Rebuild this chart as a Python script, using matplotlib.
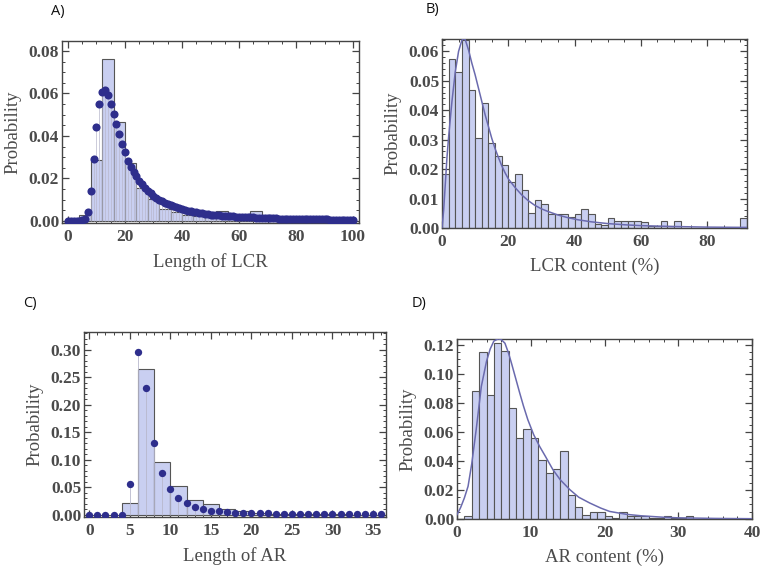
import numpy as np
import matplotlib
matplotlib.use("Agg")
import matplotlib.pyplot as plt
from matplotlib.ticker import MultipleLocator, FormatStrFormatter

# ---------------- Data ----------------
# Panel A: length of LCR
a_bin_width = 4
a_bars = [0.0005, 0.003, 0.0287, 0.0762, 0.0464, 0.0274, 0.0157, 0.0103, 0.0055, 0.0041,
          0.003, 0.0025, 0.002, 0.0045, 0.002, 0.0015, 0.0045, 0.003, 0.002, 0.001,
          0.001, 0.0008, 0.0008, 0.0007, 0.0006]
a_pts = [0, 0, 0, 0, 0.0001, 0.0003, 0.001, 0.004, 0.014, 0.029, 0.044, 0.055, 0.0606, 0.0616,
         0.0593, 0.0549, 0.0502, 0.0455, 0.0408, 0.0361, 0.0323, 0.0282, 0.0256, 0.0232, 0.021,
         0.019, 0.0172, 0.0157, 0.0143, 0.013, 0.0119, 0.0109, 0.0100, 0.0092, 0.0085, 0.0079,
         0.0073, 0.0068, 0.0063, 0.0059, 0.0055, 0.0051, 0.0048, 0.0045, 0.0042, 0.0040, 0.0037,
         0.0035, 0.0033, 0.0031, 0.0030, 0.0028, 0.0027, 0.0026, 0.0025, 0.0024, 0.0023, 0.0022,
         0.0021, 0.0020, 0.0019, 0.0018, 0.0018, 0.0017, 0.0016, 0.0016, 0.0015, 0.0015, 0.0014,
         0.0014, 0.0013, 0.0013, 0.0012, 0.0012, 0.0011, 0.0011, 0.0011, 0.0010, 0.0010, 0.0010,
         0.0009, 0.0009, 0.0009, 0.0008, 0.0008, 0.0008, 0.0008, 0.0007, 0.0007, 0.0007, 0.0007,
         0.0007, 0.0006, 0.0006, 0.0006, 0.0006, 0.0006, 0.0006, 0.0005, 0.0005, 0.0005]
a_xticks = [0, 20, 40, 60, 80, 100]
a_yticks = [0.00, 0.02, 0.04, 0.06, 0.08]

# Panel B: LCR content (%)
b_bin_width = 2
b_bars = [0.0185, 0.0574, 0.053, 0.064, 0.047, 0.0305, 0.0424, 0.029, 0.0246, 0.0214,
          0.0157, 0.0185, 0.0129, 0.0051, 0.0094, 0.0080, 0.0049, 0.0047, 0.0047, 0.0038,
          0.0049, 0.0066, 0.0047, 0.0015, 0.0010, 0.0034, 0.0024, 0.0024, 0.0024, 0.0024,
          0.0022, 0.0008, 0.0008, 0.0025, 0.0008, 0.0025, 0.0, 0.0, 0.0, 0.0,
          0.0, 0.0, 0.0, 0.0, 0.0, 0.0034]
b_curve_x = [0, 0.5, 1, 1.5, 2, 3, 4, 5, 6, 6.5, 7, 8, 9, 10, 11, 12, 13, 14, 15, 16, 17, 18,
             19, 20, 22, 24, 26, 28, 30, 32, 35, 38, 41, 45, 50, 55, 60, 70, 80, 92]
b_curve_y = [0.0, 0.006, 0.015, 0.024, 0.031, 0.043, 0.053, 0.060, 0.0638, 0.0643, 0.0640,
             0.0605, 0.0560, 0.0520, 0.0475, 0.0430, 0.0385, 0.0345, 0.0305, 0.0270, 0.0240,
             0.0212, 0.0188, 0.0167, 0.0138, 0.0113, 0.0093, 0.0077, 0.0065, 0.0056, 0.0044,
             0.0035, 0.0028, 0.0021, 0.0015, 0.0011, 0.0008, 0.0005, 0.0003, 0.0002]
b_xticks = [0, 20, 40, 60, 80]
b_yticks = [0.00, 0.01, 0.02, 0.03, 0.04, 0.05, 0.06]

# Panel C: length of AR
c_bin_width = 2
c_bars = [0, 0, 0.0223, 0.264, 0.0954, 0.052, 0.0277, 0.0205, 0.0114, 0.006,
          0.003, 0.002, 0.0015, 0.001, 0.001, 0.0008, 0.0005, 0.0005]
c_pts = [0, 0, 0, 0, 0, 0.056, 0.2965, 0.231, 0.130, 0.0755, 0.0465, 0.030, 0.021, 0.015,
         0.011, 0.0078, 0.006, 0.005, 0.004, 0.0035, 0.003, 0.0027, 0.0024, 0.0021, 0.0019,
         0.0017, 0.0015, 0.0014, 0.0013, 0.0012, 0.0011, 0.0010, 0.0009, 0.0008, 0.0008,
         0.0007, 0.0007]
c_xticks = [0, 5, 10, 15, 20, 25, 30, 35]
c_yticks = [0.00, 0.05, 0.10, 0.15, 0.20, 0.25, 0.30]

# Panel D: AR content (%)
d_bin_width = 1
d_bars = [0, 0.0018, 0.088, 0.115, 0.0856, 0.121, 0.1154, 0.0764, 0.0558, 0.062,
          0.0558, 0.0408, 0.0317, 0.0346, 0.0466, 0.0167, 0.0083, 0.003, 0.0048, 0.0048,
          0.0023, 0.0005, 0.0048, 0.002, 0.002, 0.002, 0.0005, 0.0005, 0.002, 0.0005,
          0.0005, 0.002, 0.0003, 0.0003, 0.0003, 0.0003, 0.0003, 0.0003, 0.0003, 0.0003]
d_curve_x = [0, 0.5, 1, 1.5, 2, 2.6, 3.3, 4, 4.5, 5, 5.6, 6, 6.5, 7, 7.4, 8, 8.5, 9, 9.6,
             10.4, 11.2, 12, 13, 14, 15.3, 16.5, 18, 19.5, 20.7, 23, 25, 28, 30, 35, 40]
d_curve_y = [0.003, 0.008, 0.0145, 0.0225, 0.038, 0.0615, 0.0913, 0.1085, 0.117, 0.1225,
             0.124, 0.1235, 0.121, 0.114, 0.107, 0.096, 0.0868, 0.078, 0.0684, 0.058,
             0.050, 0.043, 0.034, 0.027, 0.0202, 0.015, 0.011, 0.0075, 0.0052, 0.0032,
             0.0022, 0.0012, 0.0008, 0.0004, 0.0002]
d_xticks = [0, 10, 20, 30, 40]
d_yticks = [0.00, 0.02, 0.04, 0.06, 0.08, 0.10, 0.12]

# ---------------- Style ----------------
BAR_FC = "#c9cff1"
BAR_EC = "#555555"
DOT_C = "#2e2e8c"
CURVE_C = "#6a6aae"
FRAME_C = "#444444"
TEXT_C = "#4a4a4a"
SERIF = ["Liberation Serif", "DejaVu Serif"]

plt.rcParams["font.family"] = SERIF

fig = plt.figure(figsize=(7.64, 5.71), dpi=100)
W, H = 764.0, 571.0


def make_ax(l, r, t, b):
    return fig.add_axes([l / W, 1 - b / H, (r - l) / W, (b - t) / H])


def style(ax, xlim, ylim, xticks, yticks, xminor, yminor, yfmt, xlabel):
    ax.set_xlim(*xlim)
    ax.set_ylim(*ylim)
    ax.set_xticks(xticks)
    ax.set_yticks(yticks)
    ax.xaxis.set_minor_locator(MultipleLocator(xminor))
    ax.yaxis.set_minor_locator(MultipleLocator(yminor))
    ax.yaxis.set_major_formatter(FormatStrFormatter(yfmt))
    ax.tick_params(which="both", direction="in", top=True, right=True,
                   color=FRAME_C, labelcolor=TEXT_C, labelsize=12.5)
    ax.tick_params(axis="x", which="major", pad=4)
    ax.tick_params(axis="y", which="major", pad=2)
    ax.tick_params(which="major", length=5, width=0.9)
    ax.tick_params(which="minor", length=2.5, width=0.7)
    for lab in ax.get_xticklabels() + ax.get_yticklabels():
        lab.set_fontweight("bold")
    for s in ax.spines.values():
        s.set_color(FRAME_C)
        s.set_linewidth(1.0)
    ax.set_xlabel(xlabel, fontsize=13.5, color=TEXT_C, labelpad=6)
    ax.set_ylabel("Probability", fontsize=13.5, color=TEXT_C, labelpad=5)


def draw_bars(ax, heights, width):
    edges = np.arange(len(heights)) * width
    ax.bar(edges, heights, width=width, align="edge", color=BAR_FC,
           edgecolor=BAR_EC, linewidth=0.8, zorder=2)


# Panel A
axA = make_ax(62, 359, 41, 223)
draw_bars(axA, a_bars, a_bin_width)
xa = np.arange(len(a_pts))
axA.vlines(xa, 0, a_pts, color="#b8b8cc", linewidth=0.5, zorder=2.5)
axA.scatter(xa, a_pts, s=34, color=DOT_C, zorder=3, linewidths=0)
style(axA, (-2.1, 102.1), (-0.001, 0.0847), a_xticks, a_yticks, 5, 0.005, "%.2f",
      "Length of LCR")

# Panel B
axB = make_ax(442, 747, 39, 228)
draw_bars(axB, b_bars, b_bin_width)
axB.plot(b_curve_x, b_curve_y, color=CURVE_C, linewidth=1.1, zorder=3)
style(axB, (0, 92), (0, 0.0642), b_xticks, b_yticks, 5, 0.002, "%.2f",
      "LCR content (%)")

# Panel C
axC = make_ax(84, 386, 332, 517)
draw_bars(axC, c_bars, c_bin_width)
xc = np.arange(len(c_pts))
axC.vlines(xc, 0, c_pts, color="#b8b8cc", linewidth=0.6, zorder=2.5)
axC.scatter(xc, c_pts, s=28, color=DOT_C, zorder=3, linewidths=0)
style(axC, (-0.65, 36.6), (-0.004, 0.332), c_xticks, c_yticks, 1, 0.01, "%.2f",
      "Length of AR")

# Panel D
axD = make_ax(457, 752, 339, 519)
draw_bars(axD, d_bars, d_bin_width)
axD.plot(d_curve_x, d_curve_y, color=CURVE_C, linewidth=1.1, zorder=3)
style(axD, (0, 40), (0, 0.1239), d_xticks, d_yticks, 2, 0.005, "%.2f",
      "AR content (%)")

# Panel letters
for lbl, (px, py) in {"A)": (58, 12), "B)": (432, 10), "C)": (30, 303), "D)": (419, 303)}.items():
    fig.text(px / W, 1 - py / H, lbl, fontsize=10.5, family=["Open Sans", "DejaVu Sans"],
             ha="center", va="center", color="#111111")

fig.savefig("out.png", dpi=100)
